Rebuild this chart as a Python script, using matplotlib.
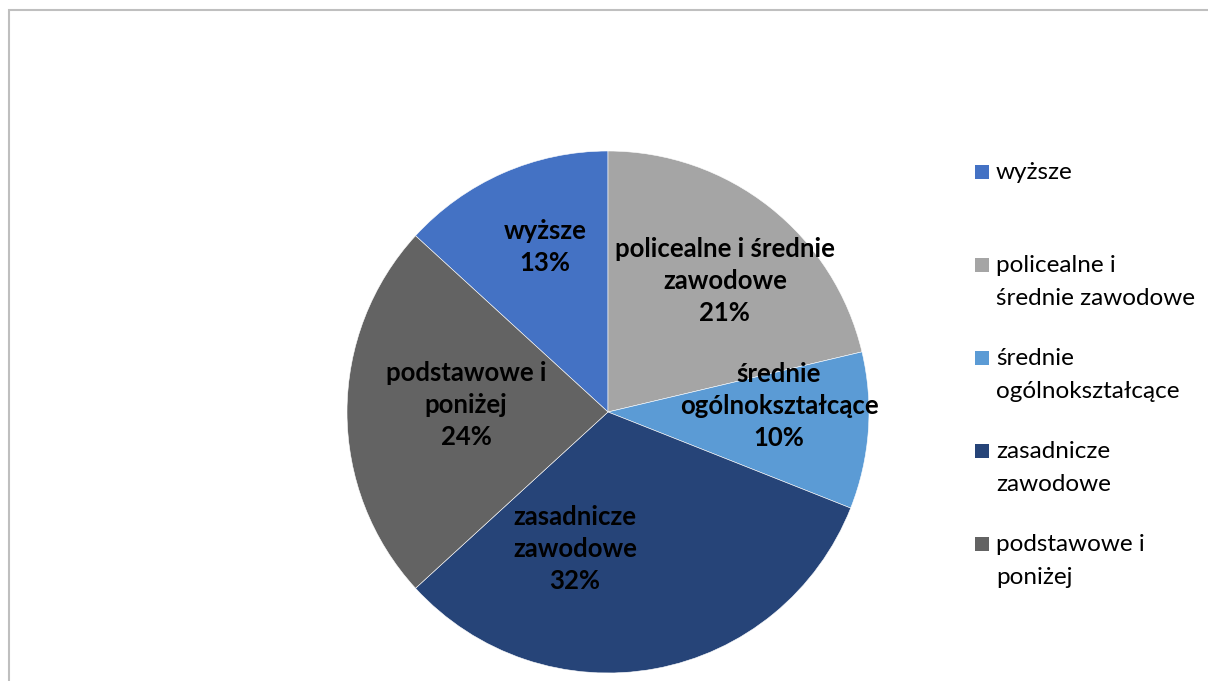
import matplotlib.pyplot as plt
from matplotlib.patches import Rectangle

plt.rcParams['font.family'] = ['Lato', 'DejaVu Sans']

# data (legend order)
names = ['wyższe', 'policealne i średnie zawodowe', 'średnie ogólnokształcące',
         'zasadnicze zawodowe', 'podstawowe i poniżej']
shares = [13.2, 21.3, 9.7, 32.2, 23.6]
colors = ['#4472C4', '#A5A5A5', '#5B9BD5', '#264478', '#636363']

pie_labels = ['wyższe', 'policealne i średnie\nzawodowe', 'średnie\nogólnokształcące',
              'zasadnicze\nzawodowe', 'podstawowe i\nponiżej']
legend_labels = ['wyższe', 'policealne i\nśrednie zawodowe', 'średnie\nogólnokształcące',
                 'zasadnicze\nzawodowe', 'podstawowe i\nponiżej']
# label anchor points, in pie radius units (Excel "best fit" placement)
label_pos = [(-0.241, 0.632), (0.448, 0.502), (0.655, 0.023), (-0.126, -0.525), (-0.544, 0.027)]

W, H = 1208, 681
fig = plt.figure(figsize=(W / 100, H / 100), dpi=100)

# chart border (right/bottom edges fall outside the crop)
fig.patches.append(Rectangle((9 / W, -0.05), 1.1, 1 - 10 / H + 0.05, transform=fig.transFigure,
                             fill=False, edgecolor='#BFBFBF', linewidth=1.5))

# pie axes: centre (608, 412) px, radius 261 px
cx, cy, r = 608, 412, 261
ax = fig.add_axes([(cx - r) / W, (H - cy - r) / H, 2 * r / W, 2 * r / H])
start = 90 + shares[0] * 3.6
ax.pie(shares, colors=colors, startangle=start, counterclock=False,
       wedgeprops=dict(edgecolor='white', linewidth=0.4))
ax.set_xlim(-1, 1)
ax.set_ylim(-1, 1)

for lab, v, (x, y) in zip(pie_labels, shares, label_pos):
    ax.text(x, y, f'{lab}\n{round(v)}%', ha='center', va='center', fontsize=18.5,
            fontweight='bold', linespacing=1.38, color='black')

# legend
for i, (lab, c) in enumerate(zip(legend_labels, colors)):
    yc = 172 + 93 * i
    fig.patches.append(Rectangle((975 / W, 1 - (yc + 7) / H), 14 / W, 14 / H,
                                 transform=fig.transFigure, facecolor=c, edgecolor='none'))
    for j, line in enumerate(lab.split('\n')):
        fig.text(996 / W, 1 - (yc + 7 + 33 * j) / H, line, fontsize=17.5,
                 va='baseline', ha='left', color='black')

plt.savefig('out.png', dpi=100)
